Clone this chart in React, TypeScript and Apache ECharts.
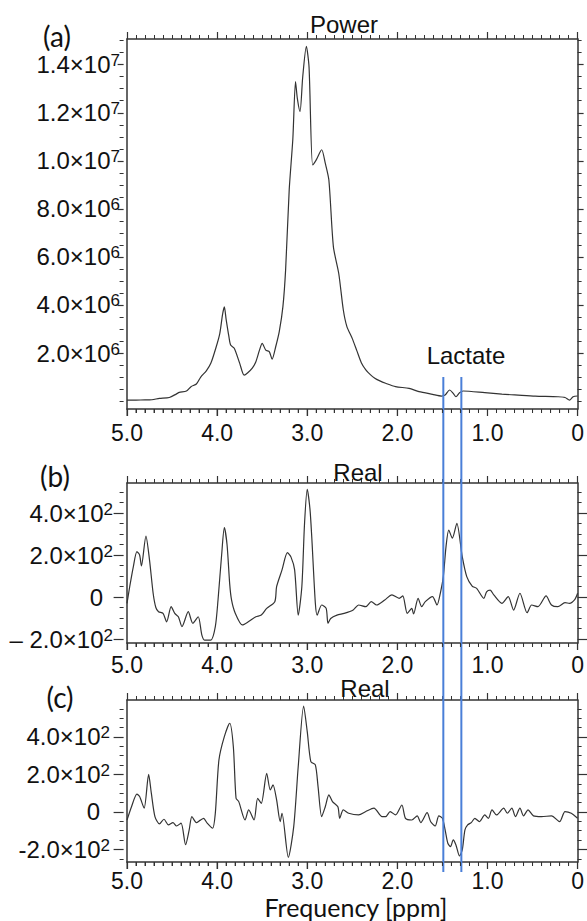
import React, { useEffect, useRef } from "react";
import * as echarts from "echarts";

// ---------- axis ticks / labels ----------
const ppmMajor = [0, 1, 2, 3, 4, 5];
const powerLabelTicks = [2e6, 4e6, 6e6, 8e6, 10e6, 12e6, 14e6];
const realLabelTicks = [-200, 0, 200, 400];
const lactateLines = [1.49, 1.29];

// ---------- (a) Power spectrum (values in units of 10^6) ----------
const powerPpm = [5.0, 4.9, 4.8, 4.75, 4.64, 4.53, 4.45, 4.42, 4.34, 4.29, 4.23, 4.18, 4.12, 4.07, 4.01, 3.97, 3.94, 3.92, 3.9, 3.87, 3.85, 3.81, 3.75, 3.7, 3.66, 3.61, 3.57, 3.53, 3.5, 3.46, 3.42, 3.39, 3.35, 3.31, 3.27, 3.24, 3.2, 3.16, 3.13, 3.11, 3.08, 3.05, 3.01, 2.98, 2.94, 2.9, 2.84, 2.8, 2.76, 2.71, 2.65, 2.6, 2.56, 2.5, 2.45, 2.4, 2.35, 2.3, 2.25, 2.2, 2.13, 2.02, 1.87, 1.76, 1.61, 1.51, 1.47, 1.42, 1.38, 1.35, 1.31, 1.27, 1.03, 0.84, 0.66, 0.47, 0.22, 0.14, 0.09, 0.05, 0.0];
const powerMillions = [0.04, 0.04, 0.05, 0.05, 0.11, 0.15, 0.3, 0.36, 0.42, 0.6, 0.71, 1.01, 1.26, 1.57, 2.26, 2.82, 3.6, 3.92, 3.4, 2.7, 2.33, 2.2, 1.58, 1.08, 1.18, 1.37, 1.64, 2.12, 2.4, 2.12, 2.05, 1.74, 2.26, 2.9, 3.93, 5.46, 8.8, 10.9, 13.3, 12.6, 12.05, 13.5, 14.76, 13.9, 9.83, 10.04, 10.46, 9.9, 9.2, 6.43, 5.3, 3.8, 3.1, 2.6, 2.1, 1.6, 1.3, 1.1, 0.95, 0.85, 0.74, 0.6, 0.53, 0.39, 0.28, 0.21, 0.25, 0.46, 0.32, 0.18, 0.35, 0.42, 0.35, 0.29, 0.25, 0.21, 0.18, 0.15, 0.04, 0.18, 0.21];

// ---------- (b) Real spectrum ----------
const realBPpm = [5.0, 4.97, 4.93, 4.89, 4.86, 4.84, 4.79, 4.75, 4.71, 4.68, 4.65, 4.6, 4.56, 4.51, 4.47, 4.43, 4.39, 4.32, 4.27, 4.21, 4.17, 4.14, 4.07, 4.02, 3.99, 3.95, 3.92, 3.89, 3.86, 3.84, 3.8, 3.72, 3.65, 3.57, 3.51, 3.45, 3.36, 3.34, 3.28, 3.22, 3.18, 3.14, 3.1, 3.06, 3.03, 3.0, 2.97, 2.95, 2.91, 2.89, 2.84, 2.79, 2.77, 2.74, 2.67, 2.59, 2.49, 2.43, 2.35, 2.29, 2.23, 2.14, 2.06, 1.98, 1.94, 1.89, 1.84, 1.82, 1.77, 1.73, 1.69, 1.61, 1.56, 1.52, 1.49, 1.46, 1.43, 1.39, 1.34, 1.28, 1.23, 1.17, 1.12, 1.04, 1.01, 0.97, 0.93, 0.84, 0.77, 0.71, 0.64, 0.56, 0.51, 0.44, 0.35, 0.29, 0.22, 0.14, 0.09, 0.03, 0.0];
const realBVals = [-30, 49, 144, 216, 200, 148, 290, 176, 18, -50, -70, -78, -118, -46, -78, -94, -141, -70, -125, -94, -180, -205, -205, -141, -14, 200, 330, 250, 60, -14, -76, -133, -117, -94, -86, -54, -22, 49, 129, 211, 190, 129, -86, 49, 350, 513, 420, 287, -30, -86, -38, -54, -125, -102, -86, -78, -62, -38, -46, -22, -38, -14, 10, -6, 5, -78, -54, -81, -6, -46, -22, 2, -38, 25, 97, 240, 319, 280, 351, 192, 97, 52, 41, -6, 25, 33, 10, -30, 2, -62, 18, -75, -38, -46, 5, -38, -46, -27, -30, -11, 18];

// ---------- (c) Real spectrum ----------
const realCPpm = [5.0, 4.95, 4.89, 4.86, 4.81, 4.76, 4.73, 4.69, 4.64, 4.59, 4.54, 4.49, 4.45, 4.4, 4.35, 4.31, 4.28, 4.23, 4.19, 4.15, 4.11, 4.05, 4.02, 3.98, 3.92, 3.86, 3.82, 3.79, 3.76, 3.69, 3.65, 3.59, 3.55, 3.51, 3.45, 3.41, 3.38, 3.34, 3.3, 3.28, 3.21, 3.15, 3.1, 3.04, 3.0, 2.96, 2.91, 2.88, 2.84, 2.8, 2.76, 2.72, 2.66, 2.64, 2.6, 2.54, 2.43, 2.35, 2.26, 2.17, 2.13, 2.08, 2.02, 1.95, 1.91, 1.84, 1.78, 1.74, 1.67, 1.63, 1.58, 1.54, 1.5, 1.47, 1.44, 1.41, 1.38, 1.35, 1.31, 1.28, 1.25, 1.22, 1.18, 1.14, 1.09, 1.03, 0.99, 0.95, 0.9, 0.82, 0.78, 0.73, 0.69, 0.64, 0.6, 0.55, 0.49, 0.4, 0.29, 0.2, 0.14, 0.07, 0.0];
const realCVals = [-43, 28, 95, 82, 20, 200, 100, -25, -64, -39, -69, -57, -75, -60, -175, -96, -25, -57, -45, -34, -60, -87, -7, 277, 402, 473, 348, 73, 55, -43, 11, -43, 73, 46, 206, 117, 144, 64, -52, -7, -242, -78, 242, 565, 428, 268, 251, 135, -25, 28, 91, 55, 28, -34, 11, -7, -16, 2, 20, -25, -25, 2, -16, 37, -34, -43, -21, -57, -4, -52, -75, -21, -34, -96, -167, -185, -149, -176, -235, -203, -96, -69, -57, -34, -52, -16, -34, 11, -16, 20, -7, 20, -25, 20, -21, 11, -21, -25, -21, -52, 2, -7, -34];

const SANS = "'Liberation Sans', Arial, Helvetica, sans-serif";
const ANNO = "Lato, 'Open Sans', sans-serif";
const AXIS_COLOR = "#333";
const TEXT_COLOR = "#111";

const GRID_LEFT = 127;
const GRID_RIGHT = 6;
const GRID_TOPS = [39, 483, 700];
const GRID_HEIGHTS = [370, 160, 162];
const GRID_WIDTH = 587 - GRID_LEFT - GRID_RIGHT;
const X_PER_GRID = 3;
const Y_PER_GRID = 6;

function range(a: number, b: number, step: number) {
  const out: number[] = [];
  for (let v = a; v <= b + step * 1e-6; v += step) out.push(Math.round(v * 1e6) / 1e6);
  return out;
}

function sciFormatter(minusPrefix: string) {
  return (v: number) => {
    if (Math.abs(v) < 1e-9) return "{z|0}";
    const e = Math.floor(Math.log10(Math.abs(v)) + 1e-9);
    const m = (Math.abs(v) / Math.pow(10, e)).toFixed(1);
    const sign = v < 0 ? minusPrefix : "";
    return `{m|${sign}${m}×10}{s|${e}}`;
  };
}

const richStyles = {
  m: { fontSize: 24, fontFamily: SANS, color: TEXT_COLOR, lineHeight: 25 },
  s: { fontSize: 17, fontFamily: SANS, color: TEXT_COLOR, lineHeight: 12, verticalAlign: "top" },
  z: { fontSize: 24, fontFamily: SANS, color: TEXT_COLOR, lineHeight: 25, padding: [0, 10, 0, 0] },
};

const noSplit = { splitLine: { show: false }, minorSplitLine: { show: false } };
const axisLineOn = { show: true, onZero: false, lineStyle: { color: AXIS_COLOR, width: 1.5 } };
const axisLineOff = { show: false, onZero: false };
const tickStyle = { color: AXIS_COLOR, width: 1.2 };
const minorStyle = { color: AXIS_COLOR, width: 1 };

function xAxesFor(gridIndex: number, labelMargin: number) {
  const common = { type: "value", gridIndex, min: 0, max: 5, interval: 1, inverse: true, ...noSplit };
  const minor = { show: true, splitNumber: 10, length: 4, lineStyle: minorStyle };
  return [
    {
      ...common,
      position: "bottom",
      axisLine: axisLineOn,
      axisTick: { show: false },
      axisLabel: {
        show: true,
        margin: labelMargin,
        customValues: ppmMajor,
        fontSize: 23,
        fontFamily: SANS,
        color: TEXT_COLOR,
        formatter: (v: number) => (v === 0 ? "0" : v.toFixed(1)),
      },
    },
    {
      ...common,
      position: "top",
      axisLine: axisLineOn,
      axisTick: { show: true, inside: false, length: 7, lineStyle: tickStyle },
      minorTick: minor,
      axisLabel: { show: false },
    },
    // bottom ticks: sits "on zero" of the helper y axis, whose zero is the bottom edge
    {
      ...common,
      position: "bottom",
      axisLine: { show: false, onZero: true, onZeroAxisIndex: gridIndex * Y_PER_GRID },
      axisTick: { show: true, inside: false, length: 7, lineStyle: tickStyle },
      minorTick: minor,
      axisLabel: { show: false },
    },
  ];
}

function yAxesFor(gridIndex: number, min: number, max: number, majors: number[], minors: number[], majorLen: number, margin: number, minus: string) {
  const base = { type: "value", gridIndex, min, max, ...noSplit };
  const majorTick = (inside: boolean) => ({ show: true, inside, length: majorLen, customValues: majors, lineStyle: tickStyle });
  const minorTick = (inside: boolean) => ({ show: true, inside, length: 4, customValues: minors, lineStyle: minorStyle });
  return [
    // helper axis: its zero is the bottom edge of the grid
    { type: "value", gridIndex, min: 0, max: 1, show: false, axisLine: axisLineOff, ...noSplit },
    {
      ...base,
      position: "left",
      axisLine: axisLineOn,
      axisTick: { show: false },
      axisLabel: { show: true, margin, customValues: majors, formatter: sciFormatter(minus), rich: richStyles },
    },
    { ...base, position: "right", axisLine: axisLineOn, axisTick: majorTick(false), axisLabel: { show: false } },
    { ...base, position: "right", axisLine: axisLineOff, axisTick: minorTick(false), axisLabel: { show: false } },
    // left ticks: right-type axes moved onto the left edge, ticks pointing outwards
    { ...base, position: "right", offset: -GRID_WIDTH, axisLine: axisLineOff, axisTick: majorTick(true), axisLabel: { show: false } },
    { ...base, position: "right", offset: -GRID_WIDTH, axisLine: axisLineOff, axisTick: minorTick(true), axisLabel: { show: false } },
  ];
}

function pairs(xs: number[], ys: number[], scale = 1) {
  return xs.map((x, i) => [x, ys[i] * scale]);
}

export default function App() {
  const ref = useRef<HTMLDivElement>(null);
  useEffect(() => {
    if (!ref.current) return;
    const chart = echarts.init(ref.current, null, { renderer: "svg" });
    const powerMinors = range(0, 15e6, 0.5e6).filter((v) => !powerLabelTicks.includes(v));
    const realMinorsB = range(-200, 500, 50).filter((v) => !realLabelTicks.includes(v));
    const realMinorsC = range(-250, 550, 50).filter((v) => !realLabelTicks.includes(v));

    const panels = [
      { min: -0.33e6, max: 15.07e6, majors: powerLabelTicks, minors: powerMinors, majorLen: 6, margin: 7, minus: "-", xMargin: 12 },
      { min: -219, max: 543, majors: realLabelTicks, minors: realMinorsB, majorLen: 10, margin: 14, minus: "– ", xMargin: 10 },
      { min: -267, max: 597, majors: realLabelTicks, minors: realMinorsC, majorLen: 10, margin: 17, minus: "-", xMargin: 7 },
    ];
    const xi = (i: number) => i * X_PER_GRID;
    const yi = (i: number) => i * Y_PER_GRID + 1;

    const lineStyle = { color: "#333", width: 1.2 };
    const option: any = {
      animation: false,
      grid: panels.map((_, i) => ({ left: GRID_LEFT, right: GRID_RIGHT, top: GRID_TOPS[i], height: GRID_HEIGHTS[i] })),
      xAxis: panels.flatMap((p, i) => xAxesFor(i, p.xMargin)),
      yAxis: panels.flatMap((p, i) => yAxesFor(i, p.min, p.max, p.majors, p.minors, p.majorLen, p.margin, p.minus)),
      series: [
        { type: "line", xAxisIndex: xi(0), yAxisIndex: yi(0), data: pairs(powerPpm, powerMillions, 1e6), showSymbol: false, smooth: 0.25, lineStyle },
        { type: "line", xAxisIndex: xi(1), yAxisIndex: yi(1), data: pairs(realBPpm, realBVals), showSymbol: false, smooth: 0.25, lineStyle },
        { type: "line", xAxisIndex: xi(2), yAxisIndex: yi(2), data: pairs(realCPpm, realCVals), showSymbol: false, smooth: 0.25, lineStyle },
      ],
    };
    chart.setOption(option);

    // fallback bottom tick marks, placed through the axes' scales
    const tickEls: any[] = [];
    panels.forEach((p, i) => {
      const yb = chart.convertToPixel({ yAxisIndex: yi(i) }, p.min) as number;
      range(0, 5, 0.1).forEach((v) => {
        const x = chart.convertToPixel({ xAxisIndex: xi(i) }, v) as number;
        const major = Math.abs(v - Math.round(v)) < 1e-6;
        tickEls.push({
          type: "line",
          shape: { x1: x, y1: yb, x2: x, y2: yb + (major ? 7 : 4) },
          style: { stroke: AXIS_COLOR, lineWidth: 1 },
          z: 100,
        });
      });
    });

    const top = chart.convertToPixel({ yAxisIndex: yi(0) }, 1.0e6) as number;
    const bottom = chart.convertToPixel({ yAxisIndex: yi(2) }, -320) as number;
    const lineEls = lactateLines.map((ppm) => {
      const x = chart.convertToPixel({ xAxisIndex: xi(0) }, ppm) as number;
      return {
        type: "line",
        shape: { x1: x, y1: top, x2: x, y2: bottom },
        style: { stroke: "#4a7fd8", lineWidth: 2 },
        z: 100,
      };
    });
    const txt = (text: string, x: number, y: number, size: number, font: string) => ({
      type: "text",
      x,
      y,
      style: { text, fontSize: size, fontFamily: font, fill: TEXT_COLOR, textAlign: "center", textVerticalAlign: "middle" },
      z: 101,
    });
    chart.setOption({
      graphic: [
        ...lineEls,
        txt("(a)", 57, 36, 28, ANNO),
        txt("(b)", 55, 476, 28, ANNO),
        txt("(c)", 60, 697, 28, ANNO),
        txt("Power", 344, 24, 24, SANS),
        txt("Real", 358, 472, 24, SANS),
        txt("Real", 365, 688, 24, SANS),
        txt("Lactate", 466, 355, 24, SANS),
        txt("Frequency [ppm]", 356, 907, 25, ANNO),
        ...tickEls,
      ],
    });
    return () => chart.dispose();
  }, []);
  return <div ref={ref} style={{ position: "absolute", left: 0, top: 0, width: 587, height: 921, background: "#fff" }} />;
}
